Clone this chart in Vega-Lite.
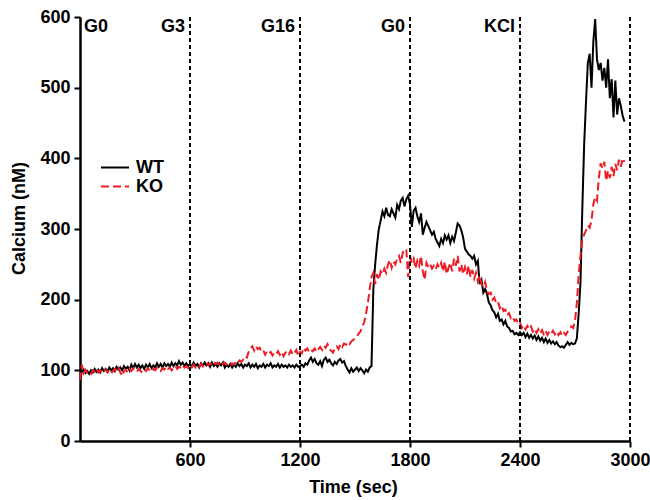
{
"$schema":"https://vega.github.io/schema/vega-lite/v6.json",
"width":550,"height":424,
"autosize":{"type":"none"},
"padding":{"left":80,"top":17,"right":20,"bottom":59},
"config":{"font":"Liberation Sans","view":{"stroke":null},
"axis":{"domainColor":"#000","domainWidth":2.5,"tickColor":"#000","tickWidth":2,"tickSize":6,"labelFontSize":18,"labelFontWeight":"bold","labelColor":"#000","titleFontSize":18,"titleFontWeight":"bold","titleColor":"#000","grid":false,"labelPadding":4,"labelFlush":false,"labelBound":false,"labelOverlap":false}},
"datasets":{
"events":[{"t":0,"label":"G0"},{"t":600,"label":"G3"},{"t":1200,"label":"G16"},{"t":1800,"label":"G0"},{"t":2400,"label":"KCl"}],
"lines":[{"t":600},{"t":1200},{"t":1800},{"t":2400},{"t":3000}],
"series":[
{"t":0,"WT":88,"KO":86},{"t":10,"WT":98,"KO":108},{"t":20,"WT":101,"KO":96},{"t":30,"WT":96,"KO":101},{"t":40,"WT":99,"KO":97},{"t":50,"WT":95,"KO":99},{"t":60,"WT":100,"KO":95},{"t":70,"WT":97,"KO":100},{"t":80,"WT":102,"KO":98},{"t":90,"WT":98,"KO":102},
{"t":100,"WT":101,"KO":97},{"t":110,"WT":97,"KO":100},{"t":120,"WT":103,"KO":96},{"t":130,"WT":99,"KO":99},{"t":140,"WT":102,"KO":101},{"t":150,"WT":98,"KO":97},{"t":160,"WT":104,"KO":100},{"t":170,"WT":100,"KO":96},{"t":180,"WT":103,"KO":99},{"t":190,"WT":99,"KO":102},
{"t":200,"WT":105,"KO":98},{"t":210,"WT":101,"KO":103},{"t":220,"WT":104,"KO":97},{"t":230,"WT":100,"KO":92},{"t":240,"WT":106,"KO":99},{"t":250,"WT":102,"KO":101},{"t":260,"WT":105,"KO":97},{"t":270,"WT":100,"KO":102},{"t":280,"WT":108,"KO":99},{"t":290,"WT":103,"KO":103},
{"t":300,"WT":109,"KO":100},{"t":310,"WT":104,"KO":98},{"t":320,"WT":108,"KO":102},{"t":330,"WT":103,"KO":99},{"t":340,"WT":107,"KO":97},{"t":350,"WT":102,"KO":101},{"t":360,"WT":108,"KO":99},{"t":370,"WT":104,"KO":103},{"t":380,"WT":109,"KO":100},{"t":390,"WT":103,"KO":98},
{"t":400,"WT":107,"KO":102},{"t":410,"WT":104,"KO":100},{"t":420,"WT":110,"KO":104},{"t":430,"WT":105,"KO":101},{"t":440,"WT":109,"KO":99},{"t":450,"WT":104,"KO":103},{"t":460,"WT":110,"KO":101},{"t":470,"WT":106,"KO":105},{"t":480,"WT":109,"KO":102},{"t":490,"WT":105,"KO":104},
{"t":500,"WT":111,"KO":100},{"t":510,"WT":106,"KO":103},{"t":520,"WT":110,"KO":106},{"t":530,"WT":107,"KO":102},{"t":540,"WT":113,"KO":105},{"t":550,"WT":108,"KO":103},{"t":560,"WT":111,"KO":107},{"t":570,"WT":106,"KO":104},{"t":580,"WT":110,"KO":106},{"t":590,"WT":106,"KO":103},
{"t":600,"WT":109,"KO":107},{"t":610,"WT":105,"KO":105},{"t":620,"WT":111,"KO":108},{"t":630,"WT":106,"KO":104},{"t":640,"WT":109,"KO":107},{"t":650,"WT":104,"KO":105},{"t":660,"WT":110,"KO":109},{"t":670,"WT":106,"KO":106},{"t":680,"WT":111,"KO":108},{"t":690,"WT":107,"KO":111},
{"t":700,"WT":110,"KO":107},{"t":710,"WT":105,"KO":110},{"t":720,"WT":111,"KO":108},{"t":730,"WT":106,"KO":112},{"t":740,"WT":109,"KO":109},{"t":750,"WT":105,"KO":111},{"t":760,"WT":110,"KO":108},{"t":770,"WT":107,"KO":112},{"t":780,"WT":111,"KO":109},{"t":790,"WT":104,"KO":111},
{"t":800,"WT":108,"KO":108},{"t":810,"WT":105,"KO":110},{"t":820,"WT":109,"KO":107},{"t":830,"WT":104,"KO":110},{"t":840,"WT":108,"KO":108},{"t":850,"WT":105,"KO":112},{"t":860,"WT":110,"KO":110},{"t":870,"WT":106,"KO":114},{"t":880,"WT":109,"KO":112},{"t":890,"WT":104,"KO":115},
{"t":900,"WT":108,"KO":120},{"t":910,"WT":106,"KO":118},{"t":920,"WT":110,"KO":126},{"t":930,"WT":104,"KO":131},{"t":940,"WT":108,"KO":134},{"t":950,"WT":105,"KO":128},{"t":960,"WT":109,"KO":134},{"t":970,"WT":103,"KO":130},{"t":980,"WT":107,"KO":132},{"t":990,"WT":105,"KO":126},
{"t":1000,"WT":109,"KO":128},{"t":1010,"WT":104,"KO":122},{"t":1020,"WT":108,"KO":127},{"t":1030,"WT":106,"KO":124},{"t":1040,"WT":110,"KO":126},{"t":1050,"WT":104,"KO":121},{"t":1060,"WT":107,"KO":125},{"t":1070,"WT":105,"KO":123},{"t":1080,"WT":109,"KO":127},{"t":1090,"WT":104,"KO":122},
{"t":1100,"WT":108,"KO":126},{"t":1110,"WT":105,"KO":120},{"t":1120,"WT":107,"KO":125},{"t":1130,"WT":104,"KO":127},{"t":1140,"WT":108,"KO":123},{"t":1150,"WT":105,"KO":128},{"t":1160,"WT":107,"KO":122},{"t":1170,"WT":104,"KO":125},{"t":1180,"WT":108,"KO":129},{"t":1190,"WT":105,"KO":120},
{"t":1200,"WT":106,"KO":126},{"t":1210,"WT":108,"KO":124},{"t":1220,"WT":105,"KO":132},{"t":1230,"WT":110,"KO":128},{"t":1240,"WT":108,"KO":131},{"t":1250,"WT":114,"KO":126},{"t":1260,"WT":118,"KO":129},{"t":1270,"WT":112,"KO":127},{"t":1280,"WT":116,"KO":131},{"t":1290,"WT":110,"KO":126},
{"t":1300,"WT":108,"KO":130},{"t":1310,"WT":113,"KO":133},{"t":1320,"WT":106,"KO":129},{"t":1330,"WT":115,"KO":135},{"t":1340,"WT":118,"KO":132},{"t":1350,"WT":112,"KO":137},{"t":1360,"WT":115,"KO":130},{"t":1370,"WT":110,"KO":128},{"t":1380,"WT":107,"KO":125},{"t":1390,"WT":112,"KO":131},
{"t":1400,"WT":109,"KO":134},{"t":1410,"WT":114,"KO":130},{"t":1420,"WT":116,"KO":137},{"t":1430,"WT":111,"KO":133},{"t":1440,"WT":113,"KO":138},{"t":1450,"WT":106,"KO":136},{"t":1460,"WT":101,"KO":140},{"t":1470,"WT":97,"KO":137},{"t":1480,"WT":103,"KO":141},{"t":1490,"WT":98,"KO":143},
{"t":1500,"WT":101,"KO":145},{"t":1510,"WT":104,"KO":148},{"t":1520,"WT":99,"KO":152},{"t":1530,"WT":103,"KO":155},{"t":1540,"WT":100,"KO":162},{"t":1550,"WT":96,"KO":168},{"t":1560,"WT":101,"KO":180},{"t":1570,"WT":98,"KO":195},{"t":1580,"WT":104,"KO":215},{"t":1590,"WT":106,"KO":232},
{"t":1600,"WT":214,"KO":238},{"t":1610,"WT":250,"KO":222},{"t":1620,"WT":278,"KO":236},{"t":1630,"WT":300,"KO":228},{"t":1640,"WT":312,"KO":240},{"t":1650,"WT":325,"KO":236},{"t":1660,"WT":318,"KO":244},{"t":1670,"WT":330,"KO":238},{"t":1680,"WT":320,"KO":250},{"t":1690,"WT":318,"KO":256},
{"t":1700,"WT":328,"KO":245},{"t":1710,"WT":322,"KO":254},{"t":1720,"WT":316,"KO":250},{"t":1730,"WT":334,"KO":258},{"t":1740,"WT":328,"KO":262},{"t":1750,"WT":340,"KO":252},{"t":1760,"WT":344,"KO":266},{"t":1770,"WT":332,"KO":272},{"t":1780,"WT":342,"KO":270},{"t":1790,"WT":347,"KO":232},
{"t":1800,"WT":335,"KO":262},{"t":1810,"WT":303,"KO":252},{"t":1820,"WT":326,"KO":258},{"t":1830,"WT":330,"KO":244},{"t":1840,"WT":318,"KO":255},{"t":1850,"WT":310,"KO":248},{"t":1860,"WT":322,"KO":262},{"t":1870,"WT":292,"KO":240},{"t":1880,"WT":302,"KO":228},{"t":1890,"WT":310,"KO":252},
{"t":1900,"WT":304,"KO":246},{"t":1910,"WT":298,"KO":250},{"t":1920,"WT":292,"KO":244},{"t":1930,"WT":296,"KO":248},{"t":1940,"WT":286,"KO":243},{"t":1950,"WT":281,"KO":250},{"t":1960,"WT":276,"KO":245},{"t":1970,"WT":286,"KO":252},{"t":1980,"WT":280,"KO":240},{"t":1990,"WT":291,"KO":254},
{"t":2000,"WT":285,"KO":236},{"t":2010,"WT":291,"KO":245},{"t":2020,"WT":280,"KO":252},{"t":2030,"WT":289,"KO":240},{"t":2040,"WT":283,"KO":258},{"t":2050,"WT":295,"KO":248},{"t":2060,"WT":308,"KO":262},{"t":2070,"WT":305,"KO":240},{"t":2080,"WT":298,"KO":250},{"t":2090,"WT":288,"KO":236},
{"t":2100,"WT":272,"KO":246},{"t":2110,"WT":268,"KO":236},{"t":2120,"WT":264,"KO":248},{"t":2130,"WT":262,"KO":232},{"t":2140,"WT":258,"KO":242},{"t":2150,"WT":262,"KO":230},{"t":2160,"WT":250,"KO":238},{"t":2170,"WT":255,"KO":226},{"t":2180,"WT":222,"KO":234},{"t":2190,"WT":228,"KO":222},
{"t":2200,"WT":210,"KO":218},{"t":2210,"WT":215,"KO":225},{"t":2220,"WT":208,"KO":212},{"t":2230,"WT":196,"KO":208},{"t":2240,"WT":192,"KO":210},{"t":2250,"WT":185,"KO":200},{"t":2260,"WT":182,"KO":203},{"t":2270,"WT":175,"KO":195},{"t":2280,"WT":180,"KO":197},{"t":2290,"WT":170,"KO":188},
{"t":2300,"WT":172,"KO":192},{"t":2310,"WT":165,"KO":184},{"t":2320,"WT":170,"KO":186},{"t":2330,"WT":162,"KO":178},{"t":2340,"WT":160,"KO":181},{"t":2350,"WT":155,"KO":174},{"t":2360,"WT":156,"KO":176},{"t":2370,"WT":151,"KO":170},{"t":2380,"WT":153,"KO":172},{"t":2390,"WT":150,"KO":166},
{"t":2400,"WT":154,"KO":168},{"t":2410,"WT":150,"KO":160},{"t":2420,"WT":153,"KO":164},{"t":2430,"WT":147,"KO":158},{"t":2440,"WT":152,"KO":163},{"t":2450,"WT":146,"KO":158},{"t":2460,"WT":150,"KO":162},{"t":2470,"WT":145,"KO":155},{"t":2480,"WT":149,"KO":159},{"t":2490,"WT":143,"KO":153},
{"t":2500,"WT":148,"KO":158},{"t":2510,"WT":142,"KO":152},{"t":2520,"WT":146,"KO":157},{"t":2530,"WT":140,"KO":151},{"t":2540,"WT":145,"KO":156},{"t":2550,"WT":139,"KO":150},{"t":2560,"WT":143,"KO":155},{"t":2570,"WT":138,"KO":152},{"t":2580,"WT":141,"KO":156},{"t":2590,"WT":137,"KO":151},
{"t":2600,"WT":140,"KO":155},{"t":2610,"WT":135,"KO":150},{"t":2620,"WT":133,"KO":154},{"t":2630,"WT":134,"KO":149},{"t":2640,"WT":132,"KO":153},{"t":2650,"WT":136,"KO":150},{"t":2660,"WT":140,"KO":155},{"t":2670,"WT":136,"KO":158},{"t":2680,"WT":139,"KO":162},{"t":2690,"WT":137,"KO":160},
{"t":2700,"WT":138,"KO":170},{"t":2710,"WT":145,"KO":195},{"t":2720,"WT":180,"KO":235},{"t":2730,"WT":225,"KO":262},{"t":2740,"WT":330,"KO":285},{"t":2750,"WT":420,"KO":292},{"t":2760,"WT":480,"KO":298},{"t":2770,"WT":535,"KO":305},{"t":2780,"WT":548,"KO":302},{"t":2790,"WT":500,"KO":312},
{"t":2800,"WT":565,"KO":335},{"t":2810,"WT":597,"KO":345},{"t":2820,"WT":540,"KO":340},{"t":2830,"WT":525,"KO":372},{"t":2840,"WT":535,"KO":393},{"t":2850,"WT":510,"KO":386},{"t":2860,"WT":528,"KO":395},{"t":2870,"WT":500,"KO":368},{"t":2880,"WT":540,"KO":382},{"t":2890,"WT":485,"KO":372},
{"t":2900,"WT":512,"KO":388},{"t":2910,"WT":458,"KO":375},{"t":2920,"WT":510,"KO":392},{"t":2930,"WT":462,"KO":383},{"t":2940,"WT":485,"KO":398},{"t":2950,"WT":474,"KO":388},{"t":2960,"WT":460,"KO":400},{"t":2970,"WT":452,"KO":395}
]},
"encoding":{"x":{"field":"t","type":"quantitative","scale":{"domain":[0,3000],"nice":false},"axis":{"values":[600,1200,1800,2400,3000],"format":"d","title":"Time (sec)","titleX":273,"titleY":51,"titleBaseline":"alphabetic"}}},
"layer":[
{"data":{"name":"series"},"transform":[{"fold":["WT","KO"],"as":["g","v"]}],
"mark":{"type":"line","strokeWidth":2},
"encoding":{
"y":{"field":"v","type":"quantitative","scale":{"domain":[0,600],"nice":false},"axis":{"values":[0,100,200,300,400,500,600],"format":"d","title":"Calcium (nM)","titleX":-56,"titleY":201,"titleBaseline":"alphabetic","titleAngle":270}},
"color":{"field":"g","type":"nominal","scale":{"domain":["WT","KO"],"range":["#000000","#ed1c24"]},"legend":{"orient":"none","legendX":20,"legendY":141,"title":null,"symbolType":"stroke","symbolSize":784,"symbolStrokeWidth":2,"labelFontSize":18,"labelFontWeight":"bold","labelColor":"#000","labelOffset":6,"rowPadding":0,"clipHeight":19}},
"strokeDash":{"field":"g","type":"nominal","scale":{"domain":["WT","KO"],"range":[[1,0],[8,4]]},"legend":{"orient":"none","legendX":20,"legendY":141,"title":null,"symbolType":"stroke","symbolSize":784,"symbolStrokeWidth":2,"labelFontSize":18,"labelFontWeight":"bold","labelColor":"#000","labelOffset":6,"rowPadding":0,"clipHeight":19}}
}},
{"data":{"name":"lines"},"mark":{"type":"rule","strokeDash":[4,3],"strokeWidth":2,"color":"#000"},"encoding":{}},
{"data":{"name":"events"},"transform":[{"filter":"datum.t == 0"}],"mark":{"type":"text","align":"left","baseline":"alphabetic","dx":4,"dy":15,"fontSize":18,"fontWeight":"bold","color":"#000"},
"encoding":{"y":{"datum":600,"type":"quantitative"},"text":{"field":"label"}}},
{"data":{"name":"events"},"transform":[{"filter":"datum.t > 0"}],"mark":{"type":"text","align":"right","baseline":"alphabetic","dx":-5,"dy":15,"fontSize":18,"fontWeight":"bold","color":"#000"},
"encoding":{"y":{"datum":600,"type":"quantitative"},"text":{"field":"label"}}}
]
}
